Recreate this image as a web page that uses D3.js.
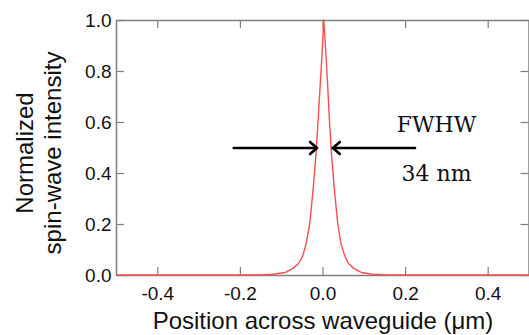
<!DOCTYPE html>
<html>
<head>
<meta charset="utf-8">
<script src="https://cdn.jsdelivr.net/npm/d3@7"></script>
<style>
  html, body { margin: 0; padding: 0; background: #fff; }
  svg { display: block; }
</style>
</head>
<body>
<script>
// ---- data ----
const positions = [-0.5, -0.15, -0.12, -0.09, -0.072, -0.058, -0.048, -0.04, -0.031, -0.023, -0.016, -0.011, -0.005, 0.0, 0.003, 0.007, 0.012, 0.017, 0.022, 0.029, 0.037, 0.045, 0.054, 0.063, 0.076, 0.094, 0.12, 0.16, 0.5];
const intensity = [0, 0, 0.003, 0.01, 0.025, 0.045, 0.075, 0.12, 0.2, 0.33, 0.47, 0.6, 0.76, 0.9, 1.0, 0.9, 0.76, 0.6, 0.47, 0.33, 0.2, 0.12, 0.075, 0.045, 0.025, 0.01, 0.003, 0, 0];
const xTicks = [-0.4, -0.2, 0.0, 0.2, 0.4];
const yTicks = [0.0, 0.2, 0.4, 0.6, 0.8, 1.0];
const xTitle = "Position across waveguide (\u03BCm)";
const yTitleLines = ["Normalized", "spin-wave intensity"];
const annotationLines = ["FWHW", "34 nm"];
const fwhmEdges = [-0.012, 0.025]; // arrow tips (µm) at half maximum
const halfMax = 0.5;

const W = 529, H = 335;
const margin = { left: 116, right: 0, top: 20, bottom: 60 };

const svg = d3.select("body").append("svg").attr("width", W).attr("height", H);

const x = d3.scaleLinear().domain([-0.5, 0.5]).range([margin.left, W - margin.right]);
const y = d3.scaleLinear().domain([0, 1]).range([H - margin.bottom, margin.top]);

const gray = "#7f7f7f";
const tickLen = 8;
const fmt = d => d.toFixed(1);

// frame & inward ticks
const frame = svg.append("g");
frame.append("g").attr("transform", `translate(0,${y(0)})`)
  .call(d3.axisBottom(x).tickValues(xTicks).tickSizeInner(-tickLen).tickSizeOuter(0).tickFormat(fmt))
  .call(g => {
    g.select(".domain").attr("stroke", gray).attr("stroke-width", 1.5);
    g.selectAll(".tick line").attr("stroke", gray).attr("stroke-width", 1.2);
    g.selectAll(".tick text").attr("y", 25).attr("dy", 0)
      .attr("font-family", "Liberation Sans, Arial, sans-serif").attr("font-size", 19).attr("fill", "#111");
  });
frame.append("g").attr("transform", `translate(0,${y(1)})`)
  .call(d3.axisTop(x).tickValues(xTicks).tickSizeInner(-tickLen).tickSizeOuter(0).tickFormat(""))
  .call(g => {
    g.select(".domain").attr("stroke", gray).attr("stroke-width", 1.5);
    g.selectAll(".tick line").attr("stroke", gray).attr("stroke-width", 1.2);
  });
frame.append("g").attr("transform", `translate(${x(-0.5)},0)`)
  .call(d3.axisLeft(y).tickValues(yTicks).tickSizeInner(-tickLen).tickSizeOuter(0).tickFormat(fmt))
  .call(g => {
    g.select(".domain").attr("stroke", gray).attr("stroke-width", 1.5);
    g.selectAll(".tick line").attr("stroke", gray).attr("stroke-width", 1.2);
    g.selectAll(".tick text").attr("x", -4.5).attr("dy", "0.35em")
      .attr("font-family", "Liberation Sans, Arial, sans-serif").attr("font-size", 19).attr("fill", "#111");
  });
frame.append("g").attr("transform", `translate(${x(0.5) - 0.5},0)`)
  .call(d3.axisRight(y).tickValues(yTicks).tickSizeInner(-tickLen).tickSizeOuter(0).tickFormat(""))
  .call(g => {
    g.select(".domain").attr("stroke", gray).attr("stroke-width", 1.5);
    g.selectAll(".tick line").attr("stroke", gray).attr("stroke-width", 1.2);
  });

// curve
const line = d3.line().x((d, i) => x(positions[i])).y(d => y(d));
svg.append("path")
  .datum(intensity)
  .attr("d", line)
  .attr("fill", "none")
  .attr("stroke", "#ff4d4d")
  .attr("stroke-width", 1.4)
  .attr("stroke-linejoin", "round");

// axis titles
svg.append("text")
  .attr("x", 323).attr("y", 329)
  .attr("text-anchor", "middle")
  .attr("font-family", "Liberation Sans, Arial, sans-serif")
  .attr("font-size", 24).attr("fill", "#111")
  .text(xTitle);

const yTitleX = [33, 61];
yTitleLines.forEach((t, i) => {
  svg.append("text")
    .attr("transform", `translate(${yTitleX[i]},153) rotate(-90)`)
    .attr("text-anchor", "middle")
    .attr("font-family", "Liberation Sans, Arial, sans-serif")
    .attr("font-size", 24).attr("fill", "#111")
    .text(t);
});

// FWHM arrows
const ay = y(halfMax) + 0.5;
const arrowColor = "#000";
function arrow(x1, x2) {
  const g = svg.append("g").attr("stroke", arrowColor).attr("stroke-width", 2.6).attr("fill", "none")
    .attr("stroke-linecap", "round").attr("stroke-linejoin", "round");
  g.append("line").attr("x1", x1).attr("y1", ay).attr("x2", x2).attr("y2", ay);
  const dir = Math.sign(x2 - x1);
  g.append("path").attr("d", `M${x2 - dir * 7},${ay - 6} L${x2},${ay} L${x2 - dir * 7},${ay + 6}`);
}
arrow(x(-0.215), x(fwhmEdges[0]) - 0.5);
arrow(x(0.224), x(fwhmEdges[1]));

// annotation
const annY = [131.5, 180.5];
annotationLines.forEach((t, i) => {
  svg.append("text")
    .attr("x", 436.5).attr("y", annY[i])
    .attr("text-anchor", "middle")
    .attr("font-family", "DejaVu Serif, serif")
    .attr("font-size", 22).attr("fill", "#111")
    .text(t);
});
</script>
</body>
</html>
